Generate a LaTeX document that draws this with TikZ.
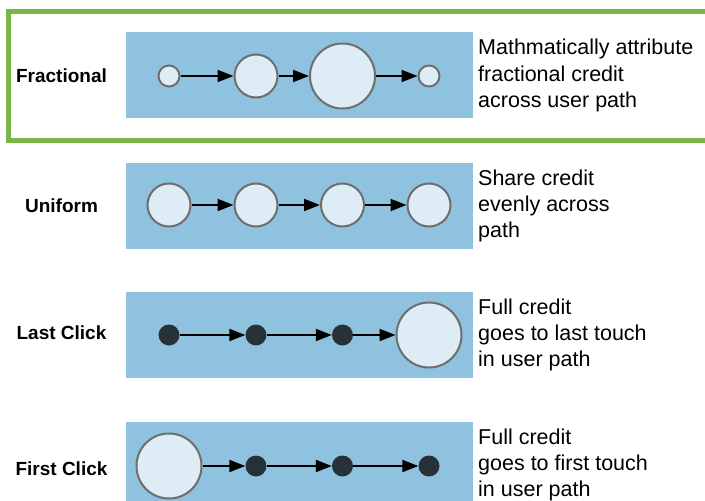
\documentclass[tikz,border=0pt]{standalone}
\usepackage{fontspec}
\setmainfont{Liberation Sans}
\usetikzlibrary{arrows.meta}
\definecolor{panelblue}{RGB}{143,194,222}
\definecolor{circfill}{RGB}{222,237,245}
\definecolor{circline}{RGB}{110,110,110}
\definecolor{dotfill}{RGB}{38,50,56}
\definecolor{framegreen}{RGB}{122,182,72}
\tikzset{
  panel/.style={fill=panelblue, draw=none},
  touch/.style={circle, fill=circfill, draw=circline, line width=2pt, inner sep=0pt, minimum size=#1},
  dot/.style={circle, fill=dotfill, draw=none, inner sep=0pt, minimum size=21pt},
  flow/.style={draw=black, line width=2pt, -{Triangle[length=16pt,width=12pt]}},
  rowlabel/.style={font=\fontsize{19}{22}\selectfont\bfseries, inner sep=0pt},
  desc/.style={anchor=west, align=left, inner sep=0pt, font=\fontsize{21.5}{26.3}\selectfont},
  frame/.style={draw=framegreen, line width=5pt}
}
\begin{document}
\begin{tikzpicture}[x=1pt,y=-1pt]
\path[use as bounding box] (0,0) rectangle (705,501);
\clip (0,0) rectangle (705,501);
% highlight frame
\draw[frame] (8,11.5) rectangle (730,140.5);
% panels
\fill[panel] (126,32) rectangle (472.5,118);
\fill[panel] (126,162.5) rectangle (472.5,248.5);
\fill[panel] (126,292) rectangle (472.5,378);
\fill[panel] (126,422) rectangle (472.5,510);
% labels
\node[rowlabel] (l1) at (61.5,76) {Fractional};
\node[rowlabel] (l2) at (61.5,206) {Uniform};
\node[rowlabel] (l3) at (61.5,333) {Last Click};
\node[rowlabel] (l4) at (61.5,468.5) {First Click};
% Fractional
\node[touch=21pt] (f1) at (169,76) {};
\node[touch=43pt] (f2) at (256,76) {};
\node[touch=65pt] (f3) at (342.5,76) {};
\node[touch=21pt] (f4) at (429,76) {};
\draw[flow] (f1) -- (f2);
\draw[flow] (f2) -- (f3);
\draw[flow] (f3) -- (f4);
% Uniform
\node[touch=43pt] (u1) at (169,205) {};
\node[touch=43pt] (u2) at (256,205) {};
\node[touch=43pt] (u3) at (342.5,205) {};
\node[touch=43pt] (u4) at (429,205) {};
\draw[flow] (u1) -- (u2);
\draw[flow] (u2) -- (u3);
\draw[flow] (u3) -- (u4);
% Last Click
\node[dot] (c1) at (169,335) {};
\node[dot] (c2) at (256,335) {};
\node[dot] (c3) at (342.5,335) {};
\node[touch=65pt] (c4) at (429,335) {};
\draw[flow] (c1) -- (c2);
\draw[flow] (c2) -- (c3);
\draw[flow] (c3) -- (c4);
% First Click
\node[touch=65pt] (s1) at (169,466) {};
\node[dot] (s2) at (256,466) {};
\node[dot] (s3) at (342.5,466) {};
\node[dot] (s4) at (429,466) {};
\draw[flow] (s1) -- (s2);
\draw[flow] (s2) -- (s3);
\draw[flow] (s3) -- (s4);
% descriptions
\node[desc] (d1) at (478,75.5) {Mathmatically attribute\\fractional credit\\across user path};
\node[desc] (d2) at (478,206) {Share credit\\evenly across\\path};
\node[desc] (d3) at (478,335) {Full credit\\goes to last touch\\in user path};
\node[desc] (d4) at (478,465) {Full credit\\goes to first touch\\in user path};
\end{tikzpicture}
\end{document}
